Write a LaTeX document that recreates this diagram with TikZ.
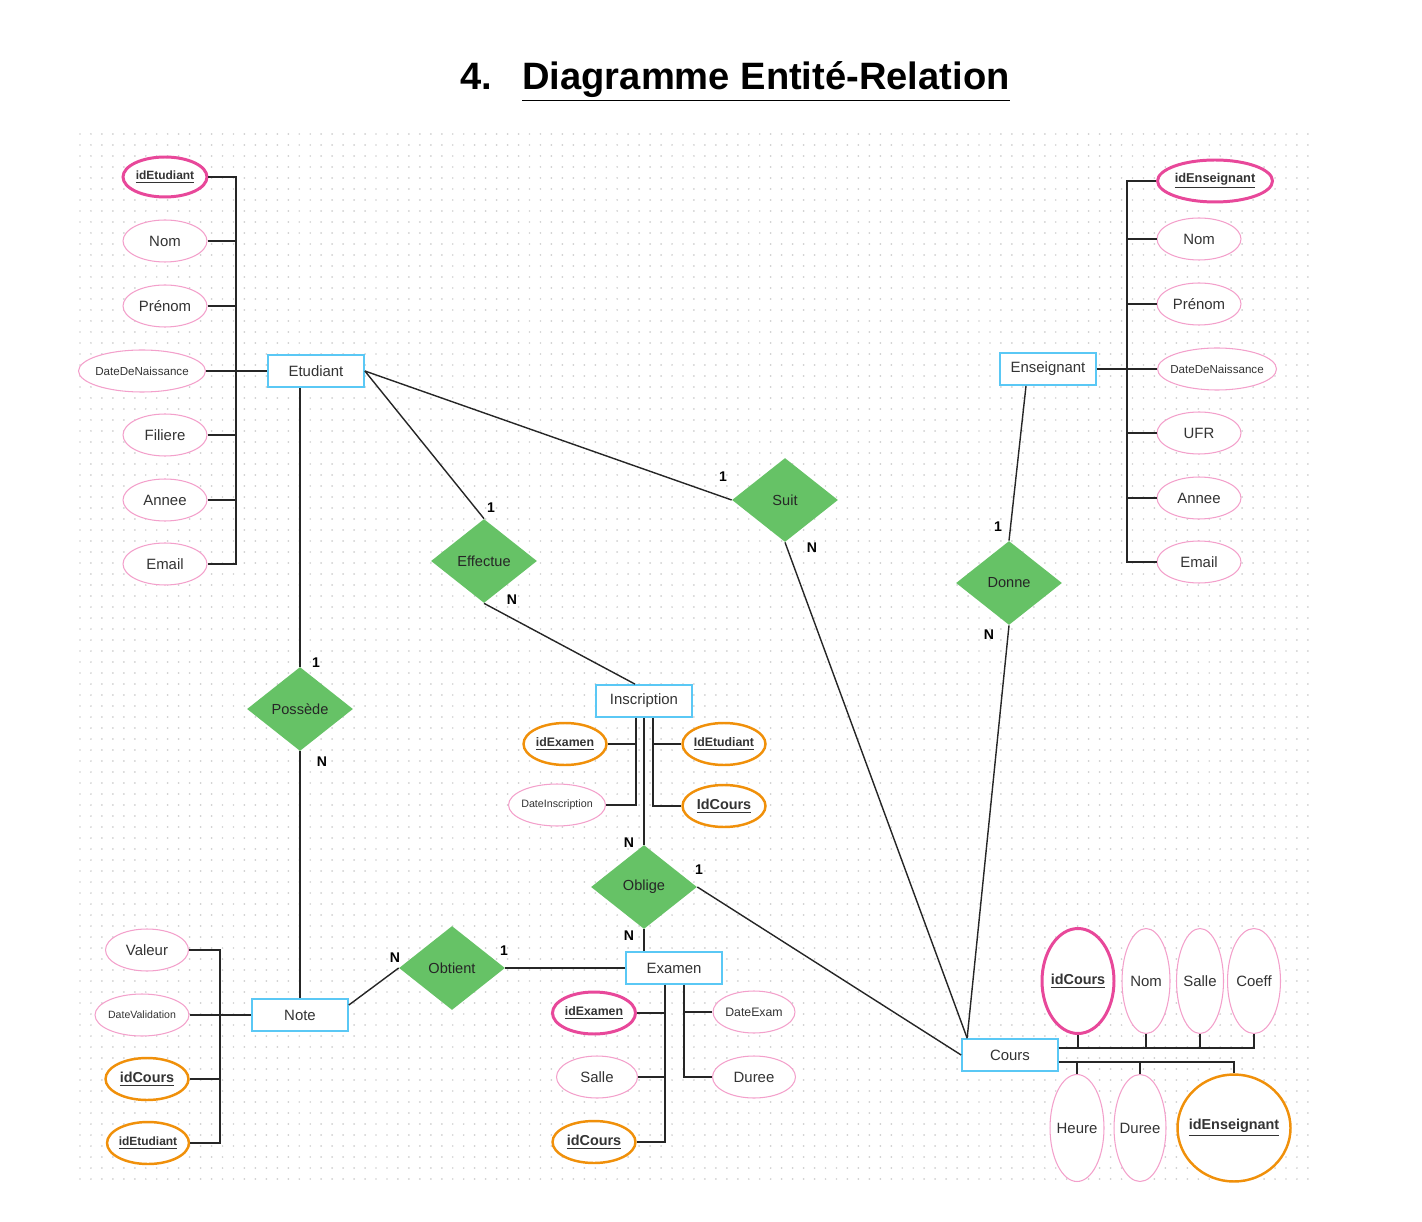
\documentclass[tikz,border=0pt]{standalone}
\usepackage{fontspec}
\setmainfont{Liberation Sans}
\usetikzlibrary{shapes.geometric}
\definecolor{bleuE}{HTML}{5AC8F5}
\definecolor{vertR}{HTML}{66C266}
\definecolor{roseA}{HTML}{F3A0CB}
\definecolor{roseK}{HTML}{E8489A}
\definecolor{orangeK}{HTML}{F0900A}
\definecolor{texte}{HTML}{333333}
\newcommand{\cle}[1]{\underline{#1}}
\tikzset{
  entite/.style={draw=bleuE, line width=1pt, fill=white, minimum width=1.92cm, minimum height=0.64cm, inner sep=0pt, text=texte, font=\fontsize{8.5}{10}\selectfont},
  relation/.style={diamond, fill=vertR, minimum width=2.12cm, minimum height=1.68cm, inner sep=0pt, text=black!85, font=\fontsize{8.3}{10}\selectfont},
  attr/.style={ellipse, draw=roseA, line width=0.6pt, fill=white, minimum width=1.68cm, minimum height=0.84cm, inner xsep=-3pt, inner ysep=0pt, text=texte, font=\fontsize{8.5}{10}\selectfont},
  petit/.style={font=\fontsize{6.6}{8}\selectfont},
  cleP/.style={draw=roseK, line width=1.7pt, font=\bfseries\fontsize{6.8}{8}\selectfont},
  cleE/.style={draw=orangeK, line width=1.4pt, font=\bfseries\fontsize{7}{8}\selectfont},
  grand/.style={font=\bfseries\fontsize{8.2}{10}\selectfont},
  card/.style={font=\bfseries\fontsize{8}{10}\selectfont, inner sep=0pt},
  lien/.style={line width=0.8pt, black!85},
  bus/.style={line width=1.1pt, black!85},
}
\begin{document}
\begin{tikzpicture}[x=0.02cm, y=-0.02cm]
        \useasboundingbox (0,0) rectangle (1422,1222);

        % Grille
        \foreach \y in {134,145,...,1186}
          \draw[gray!38, line width=1.1pt, line cap=round, dash pattern=on 0pt off 6.24pt] (80,\y) -- (1310,\y);

        % Titre
        \node[anchor=base, font=\bfseries\fontsize{21.7}{26}\selectfont] (num) at (476,90) {4.};
        \node[anchor=base, font=\bfseries\fontsize{21.7}{26}\selectfont] (titre) at (766,90) {\cle{Diagramme Entité-Relation}};

        % Entites
        \node[entite] (Etudiant) at (316,371) {Etudiant};
        \node[entite] (Enseignant) at (1048,369) {Enseignant};
        \node[entite] (Inscription) at (644,701) {Inscription};
        \node[entite] (Examen) at (674,968) {Examen};
        \node[entite] (Note) at (300,1015) {Note};
        \node[entite] (Cours) at (1010,1055) {Cours};

        % Relations
        \node[relation] (Effectue) at (484,561) {Effectue};
        \node[relation] (Suit) at (785,500) {Suit};
        \node[relation] (Donne) at (1009,583) {Donne};
        \node[relation] (Possede) at (300,709) {Possède};
        \node[relation] (Oblige) at (644,887) {Oblige};
        \node[relation] (Obtient) at (452,968) {Obtient};

        % Attributs Etudiant
        \node[attr, cleP, minimum height=0.8cm] (etuId) at (165,177) {\cle{idEtudiant}};
        \node[attr] (etuNom) at (165,241) {Nom};
        \node[attr] (etuPrenom) at (165,306) {Prénom};
        \node[attr, petit, minimum width=2.54cm] (etuNaiss) at (142,371) {DateDeNaissance};
        \node[attr] (etuFiliere) at (165,435) {Filiere};
        \node[attr] (etuAnnee) at (165,500) {Annee};
        \node[attr] (etuEmail) at (165,564) {Email};

        % Attributs Enseignant
        \node[attr, cleP, minimum width=2.3cm, font=\bfseries\fontsize{7.3}{9}\selectfont] (ensId) at (1215,181) {\cle{idEnseignant}};
        \node[attr] (ensNom) at (1199,239) {Nom};
        \node[attr] (ensPrenom) at (1199,304) {Prénom};
        \node[attr, petit, minimum width=2.38cm] (ensNaiss) at (1217,369) {DateDeNaissance};
        \node[attr] (ensUFR) at (1199,433) {UFR};
        \node[attr] (ensAnnee) at (1199,498) {Annee};
        \node[attr] (ensEmail) at (1199,562) {Email};

        % Attributs Inscription
        \node[attr, cleE, minimum width=1.66cm] (insExamen) at (565,744) {\cle{idExamen}};
        \node[attr, petit, minimum width=1.94cm, font=\fontsize{6.1}{8}\selectfont] (insDate) at (557,805) {DateInscription};
        \node[attr, cleE, minimum width=1.66cm] (insEtud) at (724,744) {\cle{IdEtudiant}};
        \node[attr, cleE, grand, minimum width=1.66cm] (insCours) at (724,806) {\cle{IdCours}};

        % Attributs Examen
        \node[attr, cleP, minimum width=1.66cm, font=\bfseries\fontsize{7}{8}\selectfont] (exId) at (594,1013) {\cle{idExamen}};
        \node[attr, minimum width=1.62cm] (exSalle) at (597,1077) {Salle};
        \node[attr, cleE, grand, minimum width=1.66cm] (exCours) at (594,1142) {\cle{idCours}};
        \node[attr, minimum width=1.64cm, font=\fontsize{7}{8}\selectfont] (exDate) at (754,1012) {DateExam};
        \node[attr, minimum width=1.66cm] (exDuree) at (754,1077) {Duree};

        % Attributs Note
        \node[attr, minimum width=1.66cm] (notValeur) at (147,950) {Valeur};
        \node[attr, minimum width=1.88cm, font=\fontsize{6}{8}\selectfont] (notDate) at (142,1015) {DateValidation};
        \node[attr, cleE, grand, minimum width=1.66cm] (notCours) at (147,1079) {\cle{idCours}};
        \node[attr, cleE, minimum width=1.64cm, font=\bfseries\fontsize{6.8}{8}\selectfont] (notEtud) at (148,1143) {\cle{idEtudiant}};

        % Attributs Cours
        \node[attr, cleP, grand, minimum width=1.44cm, minimum height=2.1cm] (coId) at (1078,981) {\cle{idCours}};
        \node[attr, minimum width=0.96cm, minimum height=2.1cm] (coNom) at (1146,981) {Nom};
        \node[attr, minimum width=0.94cm, minimum height=2.1cm] (coSalle) at (1200,981) {Salle};
        \node[attr, minimum width=1.06cm, minimum height=2.1cm] (coCoeff) at (1254,981) {Coeff};
        \node[attr, minimum width=1.08cm, minimum height=2.14cm] (coHeure) at (1077,1128) {Heure};
        \node[attr, minimum width=1.04cm, minimum height=2.14cm] (coDuree) at (1140,1128) {Duree};
        \node[attr, cleE, grand, minimum width=2.26cm, minimum height=2.14cm] (coEns) at (1234,1128) {\cle{idEnseignant}};

        % Liens
        \draw[lien] (Etudiant.east) -- (Effectue.north);
        \draw[lien] (Etudiant.east) -- (Suit.west);
        \draw[lien] (Suit.south) -- ([xshift=0.12cm]Cours.north west);
        \draw[lien] (Effectue.south) -- ([xshift=-0.18cm]Inscription.north);
        \draw[lien] ([xshift=-0.44cm]Enseignant.south) -- (Donne.north);
        \draw[lien] (Donne.south) -- ([xshift=0.12cm]Cours.north west);
        \draw[bus] (Etudiant.south -| Possede.north) -- (Possede.north);
        \draw[bus] (Possede.south) -- (Note.north);
        \draw[bus] (Inscription.south) -- (Oblige.north);
        \draw[bus] (Oblige.south) -- (Examen.north -| Oblige.south);
        \draw[lien] (Oblige.east) -- (Cours.west);
        \draw[lien] (Obtient.east) -- (Examen.west);
        \draw[lien] (Obtient.west) -- ([yshift=0.2cm]Note.east);

        % Cardinalites
        \node[card] (kEffEtu) at (491,508) {1};
        \node[card] (kEffIns) at (512,600) {N};
        \node[card] (kSuiEtu) at (723,477) {1};
        \node[card] (kSuiCou) at (812,548) {N};
        \node[card] (kDonEns) at (998,527) {1};
        \node[card] (kDonCou) at (989,635) {N};
        \node[card] (kPosEtu) at (316,663) {1};
        \node[card] (kPosNot) at (322,762) {N};
        \node[card] (kOblIns) at (629,843) {N};
        \node[card] (kOblCou) at (699,870) {1};
        \node[card] (kOblExa) at (629,936) {N};
        \node[card] (kObtExa) at (504,951) {1};
        \node[card] (kObtNot) at (395,958) {N};

        % Bus Etudiant
        \coordinate (busEtu) at (236,371);
        \draw[bus] (etuId.east) -| (busEtu) |- (etuEmail.east);
        \foreach \a in {etuNom,etuPrenom,etuFiliere,etuAnnee}
          \draw[bus] (\a.east) -- (\a.east -| busEtu);
        \draw[bus] (etuNaiss.east) -- (Etudiant.west);

        % Bus Enseignant
        \coordinate (busEns) at (1127,369);
        \draw[bus] (ensId.west) -| (busEns) |- (ensEmail.west);
        \foreach \a in {ensNom,ensPrenom,ensUFR,ensAnnee}
          \draw[bus] (\a.west) -- (\a.west -| busEns);
        \draw[bus] (Enseignant.east) -- (ensNaiss.west);

        % Bus Inscription
        \draw[bus] ([xshift=-0.16cm]Inscription.south) |- (insExamen.east);
        \draw[bus] ([xshift=-0.16cm]Inscription.south) |- (insDate.east);
        \draw[bus] ([xshift=0.18cm]Inscription.south) |- (insEtud.west);
        \draw[bus] ([xshift=0.18cm]Inscription.south) |- (insCours.west);

        % Bus Examen
        \foreach \a in {exId,exSalle,exCours}
          \draw[bus] ([xshift=-0.18cm]Examen.south) |- (\a.east);
        \foreach \a in {exDate,exDuree}
          \draw[bus] ([xshift=0.2cm]Examen.south) |- (\a.west);

        % Bus Note
        \coordinate (busNote) at (220,1015);
        \draw[bus] (notValeur.east) -| (busNote) |- (notEtud.east);
        \draw[bus] (notCours.east) -- (notCours.east -| busNote);
        \draw[bus] (notDate.east) -- (Note.west);

        % Bus Cours
        \foreach \a in {coId,coNom,coSalle,coCoeff}
          \draw[bus] ([yshift=0.14cm]Cours.east) -| (\a.south);
        \foreach \a in {coHeure,coDuree,coEns}
          \draw[bus] ([yshift=-0.14cm]Cours.east) -| (\a.north);
    \end{tikzpicture}
\end{document}
